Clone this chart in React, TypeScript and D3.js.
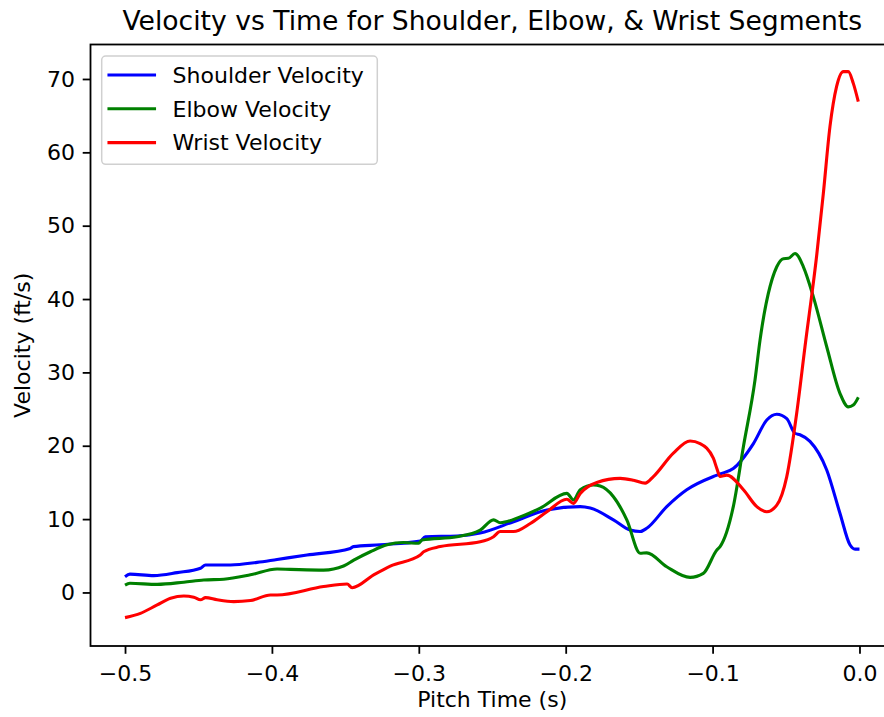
import React, { useRef, useEffect } from "react";
import * as d3 from "d3";

// values
const shoulderTime = [
  -0.5, -0.4967, -0.4804, -0.4645, -0.4486, -0.4452, -0.4282, -0.4101, -0.3965, -0.3761,
  -0.3466, -0.3446, -0.3262, -0.299, -0.2956, -0.274, -0.2582, -0.2355, -0.2128, -0.1901,
  -0.1833, -0.1675, -0.1561, -0.1493, -0.1448, -0.1312, -0.1176, -0.0995, -0.0949, -0.0859,
  -0.0722, -0.0631, -0.0563, -0.0495, -0.0439, -0.0405, -0.0337, -0.0223, -0.0133, -0.0065,
  -0.003, 0.0,
];
const shoulderVelocity = [
  2.15, 2.5, 2.3, 2.7, 3.3, 3.75, 3.75, 4.1, 4.5, 5.1,
  6.0, 6.25, 6.5, 7.0, 7.6, 7.7, 8.1, 9.65, 11.25, 11.7,
  11.5, 9.9, 8.5, 8.3, 8.75, 11.7, 14.0, 15.8, 16.15, 16.9,
  20.3, 23.5, 24.3, 23.7, 21.7, 21.5, 20.6, 16.7, 10.8, 6.5,
  5.9, 5.9,
];

const elbowTime = [
  -0.5, -0.4967, -0.4781, -0.46, -0.4464, -0.4328, -0.4146, -0.3965, -0.3874, -0.3648,
  -0.3512, -0.3443, -0.333, -0.3216, -0.3103, -0.3001, -0.2978, -0.274, -0.2582, -0.2491,
  -0.2446, -0.231, -0.2173, -0.1992, -0.1947, -0.1901, -0.1811, -0.1765, -0.1675, -0.1584,
  -0.1493, -0.1448, -0.1312, -0.1153, -0.1063, -0.0971, -0.0949, -0.0859, -0.079, -0.0711,
  -0.0677, -0.0563, -0.0518, -0.0484, -0.0439, -0.0382, -0.0314, -0.0223, -0.0133, -0.0076,
  -0.0042, -0.0008,
];
const elbowVelocity = [
  1.0, 1.25, 1.1, 1.4, 1.7, 1.8, 2.4, 3.2, 3.15, 3.05,
  3.6, 4.4, 5.55, 6.5, 6.8, 6.7, 7.15, 7.6, 8.5, 9.9,
  9.5, 10.3, 11.5, 13.5, 12.6, 14.0, 14.65, 14.5, 13.05, 9.9,
  5.35, 5.4, 3.5, 2.05, 2.6, 5.8, 6.25, 11.7, 19.9, 29.0,
  34.4, 44.4, 45.5, 45.55, 46.2, 44.4, 40.3, 33.5, 27.15, 25.3,
  25.55, 26.6,
];

const wristTime = [
  -0.5, -0.4895, -0.4781, -0.469, -0.46, -0.4532, -0.4486, -0.4452, -0.4373, -0.426,
  -0.4146, -0.401, -0.3965, -0.3648, -0.3488, -0.3454, -0.3307, -0.3194, -0.299, -0.2967,
  -0.2854, -0.2582, -0.2491, -0.2446, -0.2355, -0.2241, -0.2128, -0.1992, -0.1947, -0.1901,
  -0.1788, -0.1629, -0.1539, -0.1459, -0.1403, -0.1267, -0.1153, -0.1085, -0.0995, -0.0971,
  -0.0949, -0.0903, -0.079, -0.0699, -0.0631, -0.0563, -0.0495, -0.0427, -0.0371, -0.0291,
  -0.0246, -0.0201, -0.0156, -0.011, -0.0076, -0.0042, -0.0008,
];
const wristVelocity = [
  -3.43, -2.85, -1.7, -0.8, -0.48, -0.65, -1.0, -0.7, -1.0, -1.25,
  -1.1, -0.35, -0.35, 0.8, 1.15, 0.65, 2.4, 3.6, 5.1, 5.55,
  6.25, 6.9, 7.6, 8.3, 8.3, 9.4, 11.0, 12.7, 12.15, 13.5,
  15.0, 15.55, 15.3, 14.9, 15.8, 19.0, 20.65, 20.3, 18.3, 16.9,
  15.8, 16.0, 14.0, 11.7, 11.0, 11.9, 15.8, 24.5, 33.5, 46.0,
  54.4, 63.5, 68.95, 71.0, 71.0, 69.4, 66.9,
];

const seriesNames = ["Shoulder Velocity", "Elbow Velocity", "Wrist Velocity"];
const seriesColors = ["#0000ff", "#008000", "#ff0000"];
const xTicks = [-0.5, -0.4, -0.3, -0.2, -0.1, 0.0];
const yTicks = [0, 10, 20, 30, 40, 50, 60, 70];

function App() {
  const svgRef = useRef(null);

  useEffect(() => {
    const width = 884;
    const height = 717;
    const left = 90.5;
    const right = 894;
    const top = 44.5;
    const bottom = 646;
    const font = "DejaVu Sans, sans-serif";

    const svg = d3.select(svgRef.current);
    svg.selectAll("*").remove();
    svg.attr("width", width).attr("height", height);

    svg.append("rect")
      .attr("width", width)
      .attr("height", height)
      .attr("fill", "#ffffff");

    const xScale = d3.scaleLinear().domain([-0.5235, 0.0235]).range([left, right]);
    const yScale = d3.scaleLinear().domain([-7.3, 74.7]).range([bottom, top]);

    const series = [
      { name: seriesNames[0], color: seriesColors[0], t: shoulderTime, v: shoulderVelocity },
      { name: seriesNames[1], color: seriesColors[1], t: elbowTime, v: elbowVelocity },
      { name: seriesNames[2], color: seriesColors[2], t: wristTime, v: wristVelocity },
    ];

    const line = d3
      .line<[number, number]>()
      .x((d) => xScale(d[0]))
      .y((d) => yScale(d[1]))
      .curve(d3.curveMonotoneX);

    series.forEach((s) => {
      svg.append("path")
        .datum(s.t.map((t, i) => [t, s.v[i]] as [number, number]))
        .attr("d", line)
        .attr("fill", "none")
        .attr("stroke", s.color)
        .attr("stroke-width", 3.1)
        .attr("stroke-linejoin", "round");
    });

    // axes
    const xAxis = d3.axisBottom(xScale)
      .tickValues(xTicks)
      .tickFormat(d3.format(".1f"))
      .tickSize(7.8)
      .tickPadding(11.5);
    const yAxis = d3.axisLeft(yScale)
      .tickValues(yTicks)
      .tickFormat(d3.format("d"))
      .tickSize(7.8)
      .tickPadding(7.8);

    const gx = svg.append("g").attr("transform", `translate(0,${bottom})`).call(xAxis);
    const gy = svg.append("g").attr("transform", `translate(${left},0)`).call(yAxis);
    [gx, gy].forEach((g) => {
      g.select(".domain").remove();
      g.selectAll("line").attr("stroke", "#000").attr("stroke-width", 1.8);
      g.selectAll("text")
        .attr("font-family", font)
        .attr("font-size", 22)
        .attr("fill", "#000");
    });

    svg.append("rect")
      .attr("x", left)
      .attr("y", top)
      .attr("width", right - left)
      .attr("height", bottom - top)
      .attr("fill", "none")
      .attr("stroke", "#000")
      .attr("stroke-width", 1.8);

    // title and labels
    svg.append("text")
      .attr("x", (left + right) / 2)
      .attr("y", 29.5)
      .attr("text-anchor", "middle")
      .attr("font-family", font)
      .attr("font-size", 26.6)
      .text("Velocity vs Time for Shoulder, Elbow, & Wrist Segments");

    svg.append("text")
      .attr("x", (left + right) / 2)
      .attr("y", 707)
      .attr("text-anchor", "middle")
      .attr("font-family", font)
      .attr("font-size", 22)
      .text("Pitch Time (s)");

    svg.append("text")
      .attr("transform", "rotate(-90)")
      .attr("x", -(top + bottom) / 2)
      .attr("y", 30)
      .attr("text-anchor", "middle")
      .attr("font-family", font)
      .attr("font-size", 22)
      .text("Velocity (ft/s)");

    // legend
    const legend = svg.append("g");
    legend.append("rect")
      .attr("x", 101.7)
      .attr("y", 56)
      .attr("width", 275.6)
      .attr("height", 108.3)
      .attr("rx", 4)
      .attr("fill", "#ffffff")
      .attr("fill-opacity", 0.8)
      .attr("stroke", "#d0d0d0")
      .attr("stroke-width", 1.5);

    series.forEach((s, i) => {
      const cy = 75 + i * 33.8;
      legend.append("line")
        .attr("x1", 109)
        .attr("x2", 154.5)
        .attr("y1", cy)
        .attr("y2", cy)
        .attr("stroke", s.color)
        .attr("stroke-width", 3.1)
        .attr("stroke-linecap", "square");
      legend.append("text")
        .attr("x", 172.6)
        .attr("y", cy + 7.8)
        .attr("font-family", font)
        .attr("font-size", 22)
        .attr("fill", "#000")
        .text(s.name);
    });
  }, []);

  return (
    <svg ref={svgRef} style={{ position: "absolute", left: 0, top: 0 }}></svg>
  );
}

export default App;
